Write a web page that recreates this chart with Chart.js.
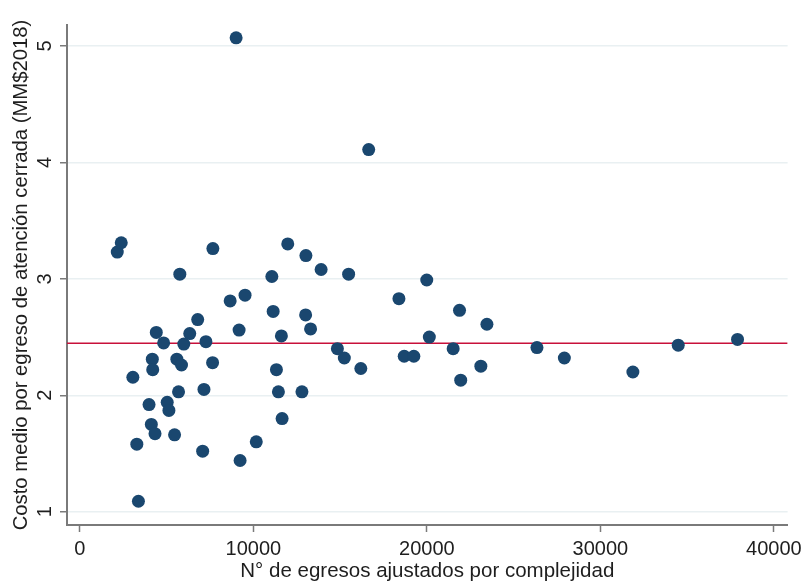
<!DOCTYPE html>
<html>
<head>
<meta charset="utf-8">
<title>Costo medio por egreso</title>
<script src="https://cdn.jsdelivr.net/npm/chart.js@4.4.1/dist/chart.umd.min.js"></script>
<style>
  html, body { margin: 0; padding: 0; background: #ffffff; }
  #chartBox { width: 807px; height: 581px; }
</style>
</head>
<body>
<div id="chartBox"><canvas id="scatterChart" width="807" height="581"></canvas></div>
<script>
// Data
const egresos = [
  9006, 16647, 2157, 2386, 5762, 7667, 11066, 11982, 8663, 9521,
  13029, 13905, 15490, 18390, 19993, 6792, 11141, 4406, 6334, 9178,
  11616, 4829, 5991, 7267, 4177, 5590, 5859, 7650, 4200, 3056,
  11330, 5688, 7153, 11444, 12800, 3988, 5035, 5133, 4120, 4332,
  5459, 11656, 3284, 7078, 9235, 10168, 3376, 13012, 13298, 14843,
  15243, 16193, 18694, 19249, 20142, 21881, 21515, 21950, 23460, 23110,
  26344, 27923, 31872, 34486, 37903
];
const costoMedio = [
  5.07, 4.11, 3.23, 3.31, 3.04, 3.26, 3.02, 3.30, 2.81, 2.86,
  3.20, 3.08, 3.04, 2.83, 2.99, 2.65, 2.72, 2.54, 2.53, 2.56,
  2.51, 2.45, 2.44, 2.46, 2.31, 2.31, 2.26, 2.28, 2.22, 2.155,
  2.22, 2.03, 2.05, 2.03, 2.03, 1.92, 1.94, 1.87, 1.75, 1.67,
  1.66, 1.80, 1.58, 1.52, 1.44, 1.60, 1.09, 2.69, 2.57, 2.40,
  2.32, 2.23, 2.335, 2.335, 2.50, 2.73, 2.40, 2.13, 2.61, 2.25,
  2.41, 2.32, 2.20, 2.43, 2.48
];
const costoPromedio = 2.447;

const xTicks = [0, 10000, 20000, 30000, 40000];
const yTicks = [1, 2, 3, 4, 5];
const xRange = [-740, 40790];
const yRange = [0.886, 5.18];

const xTitle = "N° de egresos ajustados por complejidad";
const yTitle = "Costo medio por egreso de atención cerrada (MM$2018)";

const navy = "#1a476f";
const cranberry = "#c8103a";
const axisGray = "#7a7a7a";
const gridColor = "#e9f0f2";
const textColor = "#1e1e1e";
const fontFamily = "'Liberation Sans', Arial, sans-serif";

const points = egresos.map((x, i) => ({ x: x, y: costoMedio[i] }));

const ctx = document.getElementById("scatterChart").getContext("2d");
const chart = new Chart(ctx, {
  type: "scatter",
  data: {
    datasets: [
      {
        label: "Hospitales",
        data: points,
        pointRadius: 6.5,
        pointHoverRadius: 6.5,
        pointBackgroundColor: navy,
        pointBorderWidth: 0,
        order: 1
      },
      {
        type: "line",
        label: "Promedio",
        data: [{ x: xRange[0], y: costoPromedio }, { x: xRange[1], y: costoPromedio }],
        borderColor: cranberry,
        borderWidth: 1.6,
        pointRadius: 0,
        fill: false,
        order: 2
      }
    ]
  },
  options: {
    responsive: false,
    animation: false,
    devicePixelRatio: 1,
    layout: { padding: { top: 25, right: 15, left: 0, bottom: 0 } },
    plugins: {
      legend: { display: false },
      tooltip: { enabled: false }
    },
    scales: {
      x: {
        type: "linear",
        min: xRange[0],
        max: xRange[1],
        afterBuildTicks: scale => { scale.ticks = xTicks.map(v => ({ value: v })); },
        afterFit: scale => { scale.height = 56; },
        grid: {
          drawOnChartArea: false,
          tickLength: 7,
          tickColor: axisGray,
          tickWidth: 1.5
        },
        border: { color: axisGray, width: 2 },
        ticks: {
          color: textColor,
          font: { family: fontFamily, size: 20 },
          padding: 5,
          maxRotation: 0,
          callback: v => v
        },
        title: {
          display: true,
          text: xTitle,
          color: textColor,
          font: { family: fontFamily, size: 20.5, lineHeight: 0.9 },
          padding: { top: 0, bottom: 0 }
        }
      },
      y: {
        type: "linear",
        min: yRange[0],
        max: yRange[1],
        afterBuildTicks: scale => { scale.ticks = yTicks.map(v => ({ value: v })); },
        afterFit: scale => { scale.width = 67; },
        grid: {
          color: gridColor,
          lineWidth: 1.5,
          tickLength: 7,
          tickColor: axisGray,
          tickWidth: 1.5
        },
        border: { color: axisGray, width: 2 },
        ticks: {
          color: textColor,
          font: { family: fontFamily, size: 20 },
          minRotation: 90,
          maxRotation: 90,
          crossAlign: "center",
          padding: 9,
          callback: v => v
        },
        title: {
          display: true,
          text: yTitle,
          color: textColor,
          font: { family: fontFamily, size: 20.3 },
          padding: { top: 9, bottom: 0 }
        }
      }
    }
  }
});
</script>
</body>
</html>
